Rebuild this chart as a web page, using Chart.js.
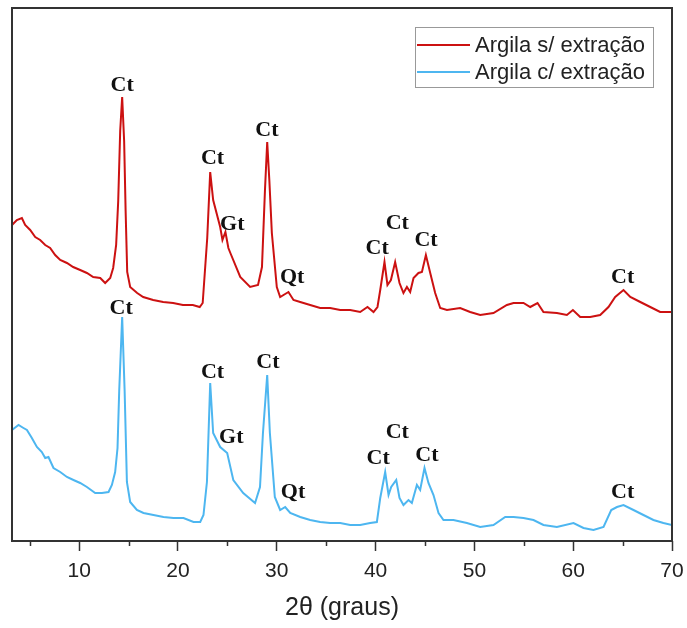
<!DOCTYPE html>
<html lang="pt-BR">
<head>
<meta charset="utf-8">
<title>DRX argila</title>
<script src="https://cdn.jsdelivr.net/npm/chart.js"></script>
<style>
  html, body { margin: 0; padding: 0; background: #fff; }
  #wrap { width: 687px; height: 628px; }
</style>
</head>
<body>
<div id="wrap"><canvas id="drx" width="687" height="628"></canvas></div>
<script>
// 2θ e intensidade (u.a.)
const semX = [3.2, 3.69, 4.2, 4.53, 5.04, 5.55, 6.05, 6.56, 7.06, 7.57, 8.08, 8.76, 9.39, 10.1, 10.78, 11.42, 12.13, 12.63, 13.14, 13.44, 13.74, 13.95, 14.15, 14.35, 14.55, 14.7, 14.86, 15.16, 15.87, 16.48, 17.49, 18.5, 19.51, 20.5, 21.5, 22.2, 22.5, 22.96, 23.26, 23.56, 24.27, 24.5, 24.8, 25.1, 25.3, 26.3, 27.3, 28.1, 28.5, 28.8, 29.03, 29.25, 29.5, 30.0, 30.34, 31.18, 31.69, 32.37, 33.38, 34.39, 35.4, 36.42, 37.43, 38.44, 39.18, 39.79, 40.19, 40.47, 40.9, 41.2, 41.55, 41.98, 42.42, 42.82, 43.17, 43.5, 43.84, 44.34, 44.69, 45.09, 45.53, 46.03, 46.54, 47.22, 48.56, 49.57, 50.59, 51.93, 53.29, 53.96, 54.97, 55.65, 56.39, 56.99, 58.35, 59.36, 59.97, 60.71, 61.72, 62.73, 63.57, 64.25, 65.09, 65.78, 66.79, 67.8, 68.8, 69.8, 70];
const semY = [316, 321, 323, 316, 311, 304, 301, 296, 293, 286, 281, 278, 274, 271, 268, 264, 263, 258, 263, 273, 296, 340, 410, 444, 400, 330, 269, 254, 248, 244, 241, 239, 238, 236, 236, 234, 238, 303, 369, 341, 314, 301, 309, 293, 288, 264, 254, 256, 274, 350, 399, 360, 308, 254, 244, 249, 241, 239, 236, 233, 233, 231, 231, 229, 234, 229, 234, 251, 279, 256, 261, 279, 258, 248, 254, 249, 263, 268, 269, 286, 268, 248, 233, 231, 233, 229, 226, 228, 236, 238, 238, 234, 238, 229, 228, 226, 231, 224, 224, 226, 234, 244, 251, 244, 239, 234, 229, 229, 229];

const comX = [3.2, 3.86, 4.36, 4.71, 5.21, 5.72, 6.22, 6.56, 6.89, 7.4, 8.08, 8.76, 9.42, 10.1, 10.78, 11.62, 12.3, 12.97, 13.31, 13.64, 13.88, 14.05, 14.35, 14.6, 14.83, 15.16, 15.84, 16.51, 17.52, 18.53, 19.54, 20.56, 21.57, 22.25, 22.58, 22.93, 23.26, 23.56, 24.27, 24.98, 25.6, 26.6, 27.8, 28.3, 28.6, 29.03, 29.3, 29.8, 30.34, 30.85, 31.36, 32.37, 33.38, 34.39, 35.4, 36.42, 37.43, 38.44, 39.45, 40.13, 40.47, 40.97, 41.31, 41.58, 42.09, 42.42, 42.82, 43.33, 43.67, 44.18, 44.51, 44.95, 45.35, 45.86, 46.37, 46.87, 47.88, 49.24, 50.59, 51.93, 53.12, 53.96, 54.97, 55.98, 56.99, 58.35, 60.03, 61.04, 62.05, 63.07, 63.85, 64.43, 65.09, 66.1, 67.11, 68.12, 69.13, 70];
const comY = [111, 116, 113, 111, 103, 94, 89, 83, 84, 73, 69, 64, 61, 58, 54, 48, 48, 49, 56, 69, 93, 150, 224, 150, 59, 39, 31, 28, 26, 24, 23, 23, 19, 19, 26, 59, 158, 108, 94, 88, 61, 48, 38, 54, 108, 166, 108, 44, 31, 34, 28, 24, 21, 19, 18, 18, 16, 16, 18, 19, 43, 69, 46, 54, 61, 43, 36, 41, 38, 56, 51, 73, 58, 46, 28, 21, 21, 18, 14, 16, 24, 24, 23, 21, 16, 14, 18, 13, 11, 14, 31, 34, 36, 31, 26, 21, 18, 16];

// identificação das fases (rótulo, 2θ, altura)
const fases = ['Ct', 'Ct', 'Gt', 'Ct', 'Qt', 'Ct', 'Ct', 'Ct', 'Ct'];
const semRotX = [14.35, 23.5, 25.5, 29.0, 31.55, 40.16, 42.2, 45.1, 65.0];
const semRotY = [456, 383, 317, 411, 264, 293, 318, 301, 264];
const comRotX = [14.25, 23.5, 25.4, 29.1, 31.65, 40.26, 42.2, 45.2, 65.0];
const comRotY = [233, 169, 104, 179, 49, 83, 109, 86, 49];

const nomes = ['Argila s/ extração', 'Argila c/ extração'];
const cores = ['#cc1111', '#4db6f0'];

function pares(xs, ys) {
  return xs.map((x, i) => ({ x: x, y: ys[i] }));
}

// moldura, ticks menores, rótulos de fase e legenda
const extras = {
  id: 'extras',
  afterDraw(chart) {
    const ctx = chart.ctx;
    const a = chart.chartArea;
    const sx = chart.scales.x, sy = chart.scales.y;
    ctx.save();
    ctx.strokeStyle = '#333';
    ctx.lineWidth = 2;
    ctx.strokeRect(a.left, a.top, a.right - a.left, a.bottom - a.top);

    ctx.lineWidth = 1.5;
    for (let v = 5; v < 70; v += 10) {
      const px = Math.round(sx.getPixelForValue(v)) + 0.5;
      ctx.beginPath();
      ctx.moveTo(px, a.bottom);
      ctx.lineTo(px, a.bottom + 5);
      ctx.stroke();
    }

    ctx.fillStyle = '#111';
    ctx.font = 'bold 22px "Liberation Serif", serif';
    ctx.textAlign = 'center';
    ctx.textBaseline = 'middle';
    fases.forEach((t, i) => {
      ctx.fillText(t, sx.getPixelForValue(semRotX[i]), sy.getPixelForValue(semRotY[i]));
      ctx.fillText(t, sx.getPixelForValue(comRotX[i]), sy.getPixelForValue(comRotY[i]));
    });

    // legenda
    const lx = 415, ly = 27, lw = 238, lh = 60;
    ctx.fillStyle = '#fff';
    ctx.fillRect(lx, ly, lw, lh);
    ctx.strokeStyle = '#999';
    ctx.lineWidth = 1;
    ctx.strokeRect(lx + 0.5, ly + 0.5, lw, lh);
    ctx.font = '22px "Liberation Sans", Arial, sans-serif';
    ctx.textAlign = 'left';
    nomes.forEach((n, i) => {
      const y = ly + 18 + i * 27;
      ctx.strokeStyle = cores[i];
      ctx.lineWidth = 2;
      ctx.beginPath();
      ctx.moveTo(lx + 2, y);
      ctx.lineTo(lx + 55, y);
      ctx.stroke();
      ctx.fillStyle = '#222';
      ctx.fillText(n, lx + 60, y + 1);
    });
    ctx.restore();
  }
};

new Chart(document.getElementById('drx'), {
  type: 'line',
  data: {
    datasets: [
      { label: nomes[0], data: pares(semX, semY), borderColor: cores[0], borderWidth: 2, pointRadius: 0, tension: 0, fill: false },
      { label: nomes[1], data: pares(comX, comY), borderColor: cores[1], borderWidth: 2, pointRadius: 0, tension: 0, fill: false }
    ]
  },
  options: {
    responsive: false,
    animation: false,
    layout: { padding: { left: 12, right: 15, top: 8, bottom: 0 } },
    plugins: { legend: { display: false }, tooltip: { enabled: false } },
    scales: {
      x: {
        type: 'linear',
        min: 3.2,
        max: 70,
        border: { display: false },
        grid: {
          drawOnChartArea: false,
          drawTicks: true,
          tickLength: 10,
          tickWidth: 1.5,
          tickColor: c => (c.tick && c.tick.value % 10 === 0) ? '#333' : 'rgba(0,0,0,0)'
        },
        ticks: {
          stepSize: 5,
          includeBounds: false,
          autoSkip: false,
          maxRotation: 0,
          padding: 8,
          color: '#222',
          font: { family: '"Liberation Sans", Arial, sans-serif', size: 21 },
          callback: v => (v % 10 === 0 ? String(v) : '')
        },
        title: {
          display: true,
          text: '2θ (graus)',
          color: '#222',
          font: { family: '"Liberation Sans", Arial, sans-serif', size: 25 },
          padding: { top: 0, bottom: 5 }
        },
        afterFit: s => {
          s.height = 87;
          s.paddingLeft = 0;
          s.paddingRight = 0;
        }
      },
      y: {
        display: false,
        min: 0,
        max: 533
      }
    }
  },
  plugins: [extras]
});
</script>
</body>
</html>
